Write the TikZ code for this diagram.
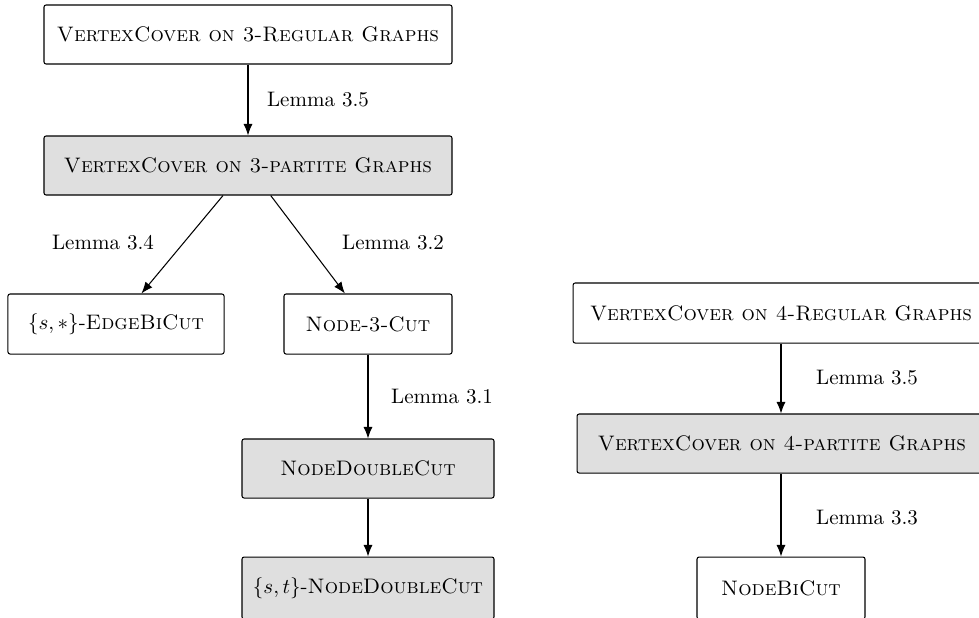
\documentclass[tikz,border=0pt]{standalone}
\usetikzlibrary{arrows.meta}
\begin{document}
\begin{tikzpicture}[x=0.47619pt,y=-0.47619pt,
  box/.style={draw, line width=0.5pt, rounded corners=1pt, inner sep=0pt, minimum height=28.1pt, align=center},
  shaded/.style={box, fill=gray!25},
  lem/.style={inner sep=0pt, anchor=center},
  arr/.style={-{Latex[length=5.5pt,width=4.3pt]}, line width=0.5pt}]
\useasboundingbox (0,0) rectangle (979,617);
\node[box, minimum width=194.3pt] (a) at (248,34.5) {\textsc{VertexCover on 3-Regular Graphs}};
\node[shaded, minimum width=194.3pt] (b) at (248,165.5) {\textsc{VertexCover on 3-partite Graphs}};
\node[box, minimum width=102.9pt, minimum height=28.6pt] (c) at (116,324) {$\{s,*\}$-\textsc{EdgeBiCut}};
\node[box, minimum width=80pt, minimum height=28.6pt] (d) at (368,324) {\textsc{Node-3-Cut}};
\node[shaded, minimum width=120pt] (e) at (368,468.5) {\textsc{NodeDoubleCut}};
\node[shaded, minimum width=120pt, minimum height=29.5pt] (f) at (368,588) {$\{s,t\}$-\textsc{NodeDoubleCut}};
\node[box, minimum width=198pt, minimum height=28.6pt] (g) at (781,313) {\textsc{VertexCover on 4-Regular Graphs}};
\node[shaded, minimum width=195.2pt] (h) at (782,443.5) {\textsc{VertexCover on 4-partite Graphs}};
\node[box, minimum width=80pt, minimum height=29.5pt] (i) at (781,588) {\textsc{NodeBiCut}};
\draw[arr] (a) -- (b);
\draw[arr] (b) -- (c);
\draw[arr] (b) -- (d);
\draw[arr] (d) -- (e);
\draw[arr] (e) -- (f);
\draw[arr] (g.south -| i) -- (h.north -| i);
\draw[arr] (h.south -| i) -- (i);
\node[lem] (l1) at (318,100) {Lemma 3.5};
\node[lem] (l2) at (103,243) {Lemma 3.4};
\node[lem] (l3) at (393,243) {Lemma 3.2};
\node[lem] (l4) at (442,397) {Lemma 3.1};
\node[lem] (l5) at (867,378) {Lemma 3.5};
\node[lem] (l6) at (867,518) {Lemma 3.3};
\end{tikzpicture}
\end{document}
